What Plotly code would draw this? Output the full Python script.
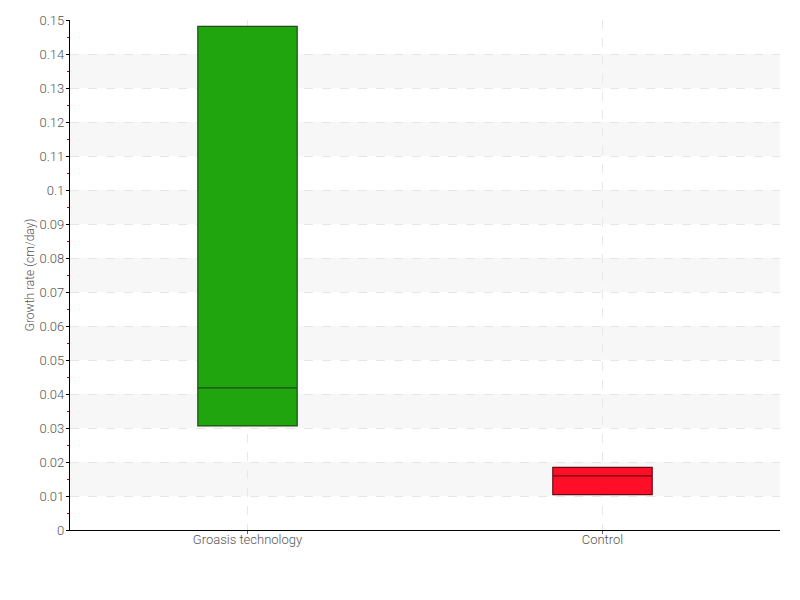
import plotly.graph_objects as go

categories = ["Groasis technology", "Control"]
q1 = [0.0306, 0.0104]
median = [0.0418, 0.0159]
q3 = [0.1481, 0.0184]
fills = ["#21a50f", "#ff0f27"]
lines = ["#1e4d1a", "#6b0a14"]
y_ticks = [round(i * 0.01, 2) for i in range(16)]
y_labels = ["0" if v == 0 else ("0.1" if abs(v - 0.1) < 1e-9 else f"{v:g}") for v in y_ticks]

font_family = "Roboto, sans-serif"

fig = go.Figure()
for i, c in enumerate(categories):
    fig.add_trace(go.Box(
        x=[c], q1=[q1[i]], median=[median[i]], q3=[q3[i]],
        lowerfence=[q1[i]], upperfence=[q3[i]],
        fillcolor=fills[i], line=dict(color=lines[i], width=1.2),
        width=0.28, whiskerwidth=0, showlegend=False, hoverinfo="skip",
    ))

shapes = []
for k in range(1, 15, 2):
    shapes.append(dict(type="rect", xref="paper", yref="y", x0=0, x1=1,
                       y0=y_ticks[k], y1=y_ticks[k + 1], fillcolor="#f7f7f7",
                       line=dict(width=0), layer="below"))

fig.update_layout(
    width=800, height=600,
    margin=dict(l=62, r=28, t=12, b=78, autoexpand=False),
    plot_bgcolor="white", paper_bgcolor="white",
    shapes=shapes,
    font=dict(family=font_family, color="#555555", size=13, weight=300),
    xaxis=dict(
        type="category", range=[-0.5, 1.5],
        showline=True, linecolor="#000000", linewidth=1.3,
        showgrid=True, gridcolor="#e8e8e8", griddash="dash", gridwidth=1,
        ticks="outside", ticklen=3, tickcolor="#666666",
        ticklabelstandoff=-6,
        tickfont=dict(size=13, color="#555555", weight=300),
        zeroline=False,
    ),
    yaxis=dict(
        range=[0, 0.15], tickmode="array", tickvals=y_ticks, ticktext=y_labels,
        showline=True, linecolor="#000000", linewidth=1.3,
        showgrid=True, gridcolor="#e6e6e6", griddash="dash", gridwidth=1,
        ticks="outside", ticklen=3, tickcolor="#000000",
        ticklabelstandoff=-1,
        minor=dict(dtick=0.005, tick0=0.005, ticks="outside", ticklen=2, tickcolor="#cc0000", showgrid=False),
        tickfont=dict(size=13, color="#555555", weight=300),
        title=dict(text="Growth rate (cm/day)", font=dict(size=12, color="#555555", weight=300), standoff=2),
        zeroline=False,
    ),
)

fig.write_html("out.html")
